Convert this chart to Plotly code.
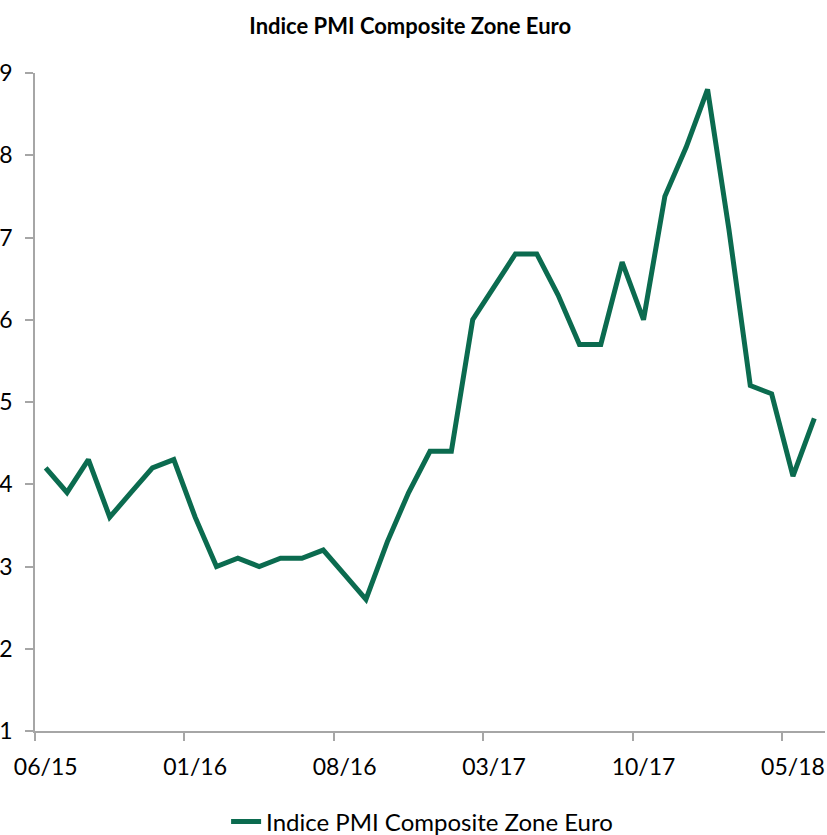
import plotly.graph_objects as go

months = ["06/15","07/15","08/15","09/15","10/15","11/15","12/15",
          "01/16","02/16","03/16","04/16","05/16","06/16","07/16",
          "08/16","09/16","10/16","11/16","12/16",
          "01/17","02/17","03/17","04/17","05/17","06/17","07/17",
          "08/17","09/17","10/17","11/17","12/17",
          "01/18","02/18","03/18","04/18","05/18","06/18"]
pmi = [54.2, 53.9, 54.3, 53.6, 53.9, 54.2, 54.3,
       53.6, 53.0, 53.1, 53.0, 53.1, 53.1, 53.2,
       52.9, 52.6, 53.3, 53.9, 54.4,
       54.4, 56.0, 56.4, 56.8, 56.8, 56.3, 55.7,
       55.7, 56.7, 56.0, 57.5, 58.1,
       58.8, 57.1, 55.2, 55.1, 54.1, 54.8]
series_name = "Indice PMI Composite Zone Euro"
title_text = "Indice PMI Composite Zone Euro"
y_ticks = [51, 52, 53, 54, 55, 56, 57, 58, 59]

FONT = "Lato"
GREEN = "#0B6B4F"
AXIS = "#A6A6A6"

fig = go.Figure()
fig.add_trace(go.Scatter(
    x=months, y=pmi, mode="lines", name=series_name,
    line=dict(color=GREEN, width=5),
))

fig.update_layout(
    width=827, height=835,
    template="none",
    paper_bgcolor="white", plot_bgcolor="white",
    margin=dict(l=35, r=2, t=73, b=104, autoexpand=False),
    title=dict(text="<b>" + title_text + "</b>", x=0.496, xanchor="center",
               y=1 - 26/835, yanchor="middle",
               font=dict(family=FONT, size=22, color="black")),
    showlegend=True,
    legend=dict(orientation="h", x=0.49, xanchor="center", y=-(822-731)/658,
                yanchor="middle", font=dict(family=FONT, size=24, color="black"),
                bgcolor="rgba(0,0,0,0)"),
    xaxis=dict(type="category", range=[-0.5, 36.5], dtick=7, tick0=0,
               tickson="boundaries", ticks="outside", ticklen=8, tickwidth=1.5,
               tickcolor=AXIS, showline=True, linecolor=AXIS, linewidth=1.5,
               showgrid=False, zeroline=False, automargin=False,
               tickangle=0, ticklabelstandoff=15,
               tickfont=dict(family=FONT, size=23, color="black")),
    yaxis=dict(range=[51, 59], tickvals=y_ticks, ticks="outside", ticklen=8,
               tickwidth=1.5, tickcolor=AXIS, showline=True, linecolor=AXIS,
               linewidth=1.5, showgrid=False, zeroline=False, automargin=False,
               ticklabelstandoff=8,
               tickfont=dict(family=FONT, size=23, color="black")),
)

fig.write_html("out.html", config={"displayModeBar": False},
               post_script="document.body.style.margin='0';document.body.style.overflow='hidden';")
